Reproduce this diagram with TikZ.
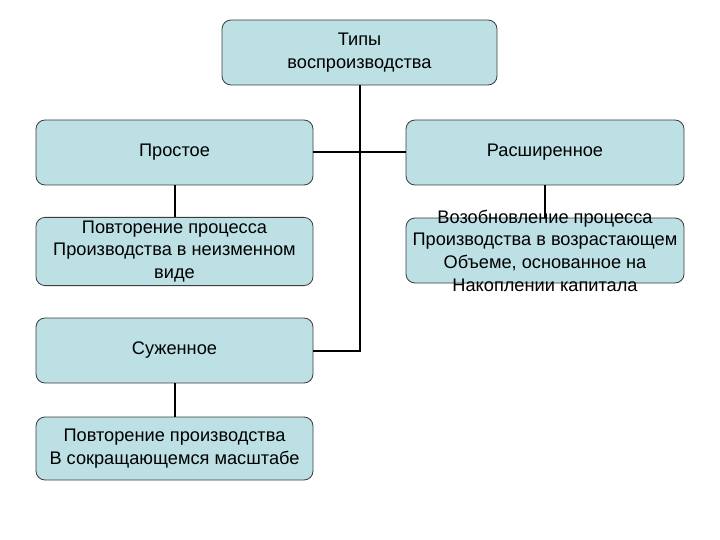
\documentclass[tikz,border=0pt]{standalone}
\usepackage{fontspec}
\setmainfont{Liberation Sans}
\usetikzlibrary{positioning}
\definecolor{boxfill}{RGB}{188,224,228}
\definecolor{boxline}{RGB}{60,60,60}

\begin{document}
\begin{tikzpicture}[x=1pt,y=-1pt,
  box/.style={draw=boxline,fill=boxfill,rounded corners=9pt,line width=0.8pt,
    minimum width=277pt,minimum height=65pt,align=center,
    font=\fontsize{18.2}{22.7}\selectfont},
  link/.style={line width=2pt,black}]

 \useasboundingbox (0,0) rectangle (720,540);

 %% top
 \node[box,minimum width=275pt] (types) at (359.5,52.5) {Типы\\воспроизводства};

 %% left column
 \node[box] (simple) at (174.5,152.5) {Простое};
 \node[box] (simpletxt) at (174.5,251.5)
   {Повторение процесса\\Производства в неизменном\\виде};
 \node[box] (narrow) at (174.5,350.5) {Суженное};
 \node[box,minimum height=63pt] (narrowtxt) at (174.5,448.5)
   {Повторение производства\\В сокращающемся масштабе};

 %% right column
 \node[box,minimum width=278pt] (wide) at (545,152.5) {Расширенное};
 \node[box,minimum width=278pt] (widebox) at (545,250.5) {};
 \node[align=center,font=\fontsize{18.2}{22.7}\selectfont] (widetxt) at (widebox.center)
   {Возобновление процесса\\Производства в возрастающем\\Объеме, основанное на\\Накоплении капитала};

 %% trunk
 \coordinate (tr1) at (types.south |- simple.east);
 \coordinate (tr2) at (types.south |- narrow.east);
 \draw[link] (types.south) -- (tr2) -- (narrow.east);
 \draw[link] (simple.east) -- (tr1) -- (wide.west);

 %% sub links
 \draw[link] (simple.south) -- (simpletxt.north);
 \draw[link] (narrow.south) -- (narrowtxt.north);
 \draw[link] (wide.south) -- (widebox.north);

\end{tikzpicture}
\end{document}
